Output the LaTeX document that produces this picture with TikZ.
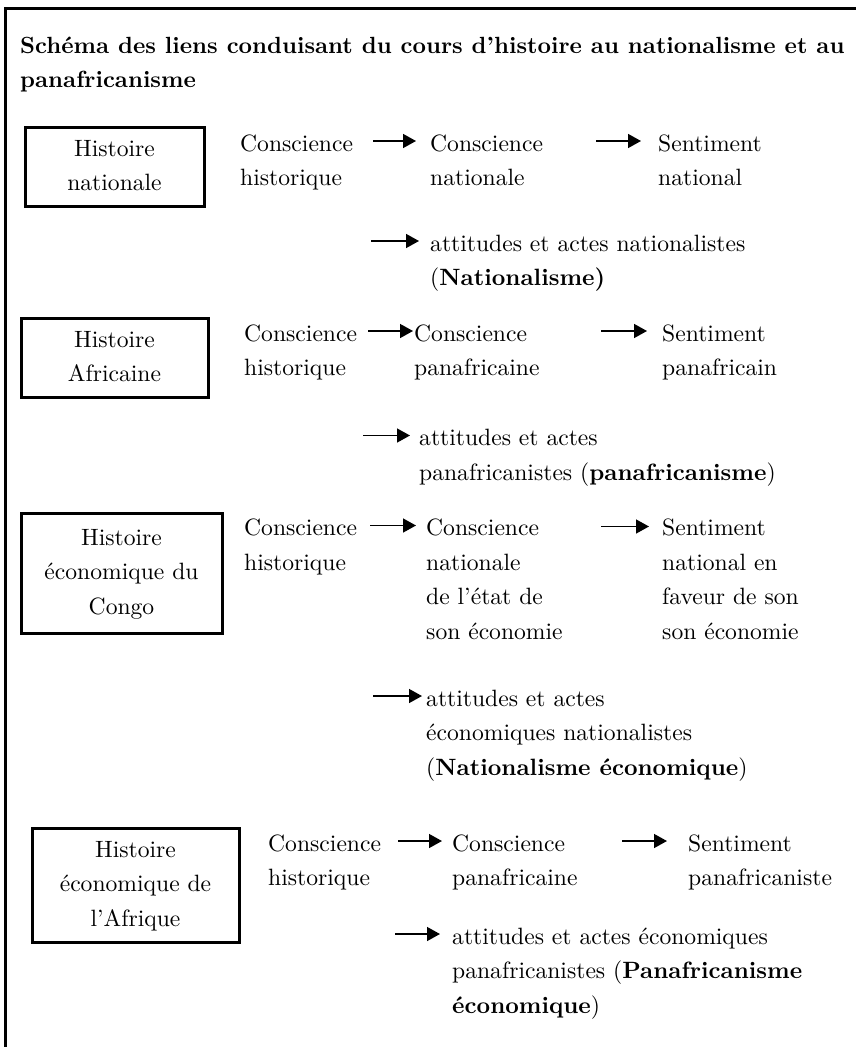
\documentclass[tikz,border=0pt]{standalone}
\usepackage{fontspec}
\setmainfont{lmroman10-regular.otf}[BoldFont=lmroman10-bold.otf, ItalicFont=lmroman10-italic.otf]
\usetikzlibrary{arrows.meta}
\newcommand{\bodyfont}{\fontsize{23.6}{34.5}\selectfont}
\newcommand{\titlefont}{\fontsize{23.4}{34.5}\selectfont\bfseries}
\newcommand{\ml}[1]{\begin{tabular}[t]{@{}l@{}}#1\end{tabular}}
\newcommand{\mc}[1]{\begin{tabular}{@{}c@{}}#1\end{tabular}}
\begin{document}
\begin{tikzpicture}[x=1pt,y=-1pt,
  txt/.style={anchor=base west, inner sep=0pt, font=\bodyfont},
  hbox/.style={draw, line width=3pt, inner sep=0pt, font=\bodyfont},
  arr/.style={line width=1.5pt, -{Triangle[length=13pt,width=14pt]}},
  frame/.style={line width=3pt}]
\useasboundingbox (0,0) rectangle (855,1047);
\draw[frame] (5,1060) -- (5,8) -- (870,8);
\node[txt, font=\titlefont] (title) at (20,53) {\ml{Schéma des liens conduisant du cours d’histoire au nationalisme et au\\panafricanisme}};
% block 1
\node[hbox, minimum width=179pt, minimum height=79pt] (h1) at (114.5,166.5) {\mc{Histoire\\nationale}};
\node[txt] (b1c1) at (240,151) {\ml{Conscience\\historique}};
\node[txt] (b1c2) at (430,151) {\ml{Conscience\\nationale}};
\node[txt] (b1c3) at (658,151) {\ml{Sentiment\\national}};
\node[txt] (b1r) at (430,251) {\ml{attitudes et actes nationalistes\\(\textbf{Nationalisme)}}};
\coordinate (b1s) at (371,241);
\draw[arr] ([shift={(133,-10)}]b1c1.base west) -- ([shift={(-14,-10)}]b1c2.base west);
\draw[arr] ([shift={(166,-10)}]b1c2.base west) -- ([shift={(-17,-10)}]b1c3.base west);
\draw[arr] (b1s) -- ([shift={(-11,-10)}]b1r.base west);
% block 2
\node[hbox, minimum width=187pt, minimum height=79pt] (h2) at (114.5,357.5) {\mc{Histoire\\Africaine}};
\node[txt] (b2c1) at (244,341) {\ml{Conscience\\historique}};
\node[txt] (b2c2) at (414,341) {\ml{Conscience\\panafricaine}};
\node[txt] (b2c3) at (662,341) {\ml{Sentiment\\panafricain}};
\node[txt] (b2r) at (419,445.5) {\ml{attitudes et actes\\panafricanistes (\textbf{panafricanisme})}};
\coordinate (b2s) at (363,435.5);
\draw[arr] ([shift={(124,-10)}]b2c1.base west) -- ([shift={(-1,-10)}]b2c2.base west);
\draw[arr] ([shift={(187,-10)}]b2c2.base west) -- ([shift={(-15,-10)}]b2c3.base west);
\draw[arr] (b2s) -- ([shift={(-9,-10)}]b2r.base west);
% block 3
\node[hbox, minimum width=201pt, minimum height=120pt] (h3) at (121.5,573) {\mc{Histoire\\économique du\\Congo}};
\node[txt] (b3c1) at (244,535.5) {\ml{Conscience\\historique}};
\node[txt] (b3c2) at (426,535.5) {\ml{Conscience\\nationale\\de l’état de\\son économie}};
\node[txt] (b3c3) at (662,535.5) {\ml{Sentiment\\national en\\faveur de son\\son économie}};
\node[txt] (b3r) at (426,706) {\ml{attitudes et actes\\économiques nationalistes\\(\textbf{Nationalisme économique})}};
\coordinate (b3s) at (373,696);
\draw[arr] ([shift={(126,-10)}]b3c1.base west) -- ([shift={(-10,-10)}]b3c2.base west);
\draw[arr] ([shift={(175,-9)}]b3c2.base west) -- ([shift={(-13,-9)}]b3c3.base west);
\draw[arr] (b3s) -- ([shift={(-4,-10)}]b3r.base west);
% block 4
\node[hbox, minimum width=207pt, minimum height=114pt] (h4) at (135.5,885) {\mc{Histoire\\économique de\\l’Afrique}};
\node[txt] (b4c1) at (268,851) {\ml{Conscience\\historique}};
\node[txt] (b4c2) at (452,851) {\ml{Conscience\\panafricaine}};
\node[txt] (b4c3) at (688,851) {\ml{Sentiment\\panafricaniste}};
\node[txt] (b4r) at (452,944) {\ml{attitudes et actes économiques\\panafricanistes (\textbf{Panafricanisme}\\\textbf{économique})}};
\coordinate (b4s) at (395,934);
\draw[arr] ([shift={(130,-10)}]b4c1.base west) -- ([shift={(-10,-10)}]b4c2.base west);
\draw[arr] ([shift={(170,-10)}]b4c2.base west) -- ([shift={(-21,-10)}]b4c3.base west);
\draw[arr] (b4s) -- ([shift={(-12,-10)}]b4r.base west);
\end{tikzpicture}
\end{document}
